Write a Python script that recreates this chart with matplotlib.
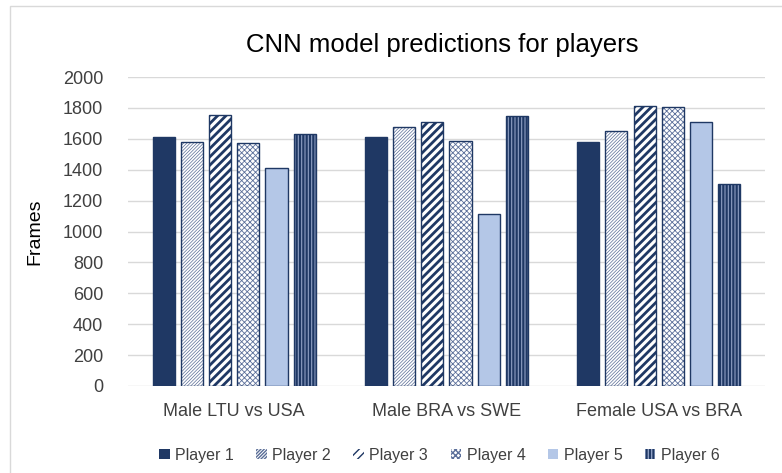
import numpy as np
import matplotlib
matplotlib.use("Agg")
import matplotlib.pyplot as plt
from matplotlib.patches import Rectangle

plt.rcParams['font.family'] = ['Liberation Sans', 'DejaVu Sans']

# data
matches = ["Male LTU vs USA", "Male BRA vs SWE", "Female USA vs BRA"]
players = ["Player 1", "Player 2", "Player 3", "Player 4", "Player 5", "Player 6"]
player1 = [1610, 1612, 1578]
player2 = [1580, 1675, 1650]
player3 = [1755, 1710, 1812]
player4 = [1572, 1586, 1805]
player5 = [1410, 1113, 1709]
player6 = [1632, 1748, 1307]
values = [player1, player2, player3, player4, player5, player6]

navy = "#1f3864"
# (face, hatch, hatch colour, hatch width)
styles = [
    (navy, None, navy, 0.8),
    ("white", "/" * 10, "#5a6d96", 0.5),
    ("white", "////", navy, 2.0),
    ("white", "x" * 6, "#5b6f9a", 0.6),
    ("#b4c7e7", None, navy, 0.8),
    (navy, "|" * 5, "#8fa0c4", 0.8),
]

fig = plt.figure(figsize=(7.82, 4.73), dpi=100)
ax = fig.add_axes([0.1637, 0.184, 0.8143, 0.653])

x = np.arange(len(matches))
step = 0.133
width = 0.104

for i, (name, vals) in enumerate(zip(players, values)):
    face, hatch, hcol, hlw = styles[i]
    pos = x + (i - 2.5) * step
    with plt.rc_context({'hatch.linewidth': hlw, 'hatch.color': hcol}):
        bars = ax.bar(pos, vals, width, color=face, edgecolor=hcol, hatch=hatch,
                      linewidth=0, label=name, zorder=2)
    for b in bars:
        if hasattr(b, "set_hatch_linewidth"):
            b.set_hatch_linewidth(hlw)
    # outline drawn on top
    ax.bar(pos, vals, width, fill=False, edgecolor=navy, linewidth=1.0, zorder=3)

ax.set_xlim(-0.5, 2.5)
ax.set_ylim(0, 2000)
ax.set_yticks(np.arange(0, 2001, 200))
ax.set_xticks(x)
ax.set_xticklabels(matches)
ax.tick_params(axis='both', length=0, labelsize=13, colors="#404040")
ax.tick_params(axis='x', pad=12)
ax.tick_params(axis='y', pad=18)
ax.grid(axis='y', color="#d9d9d9", linewidth=1, zorder=0)
ax.set_axisbelow(True)
for s in ax.spines.values():
    s.set_visible(False)

ax.set_ylabel("Frames", fontsize=14, color="black", labelpad=14)
fig.text(0.565, 0.905, "CNN model predictions for players", ha='center', va='center',
         fontsize=18.5, color="black")

handles, labels = ax.get_legend_handles_labels()
fig.legend(handles, labels, loc='center', bbox_to_anchor=(0.562, 0.038), ncol=6,
           frameon=False, fontsize=11.5, handlelength=0.65, handleheight=0.65,
           handletextpad=0.35, columnspacing=1.4, labelcolor="#404040")

# chart border (cropped at right and bottom)
fig.patches.append(Rectangle((0.0128, -0.1), 1.2, 0.987 + 0.1, transform=fig.transFigure,
                             fill=False, edgecolor="#d9d9d9", linewidth=1))

fig.savefig("out.png", dpi=100)
